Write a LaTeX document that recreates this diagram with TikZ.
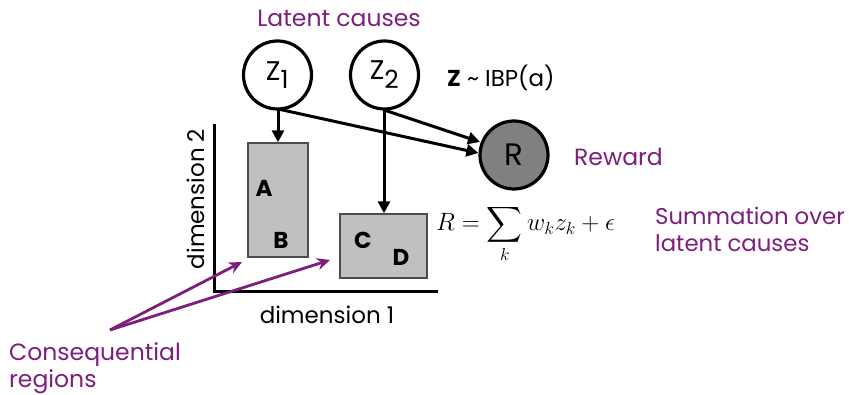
\RequirePackage{fix-cm}
\documentclass[tikz,border=0pt]{standalone}
\usepackage{fontspec}
\setmainfont{Poppins}
\usepackage{amsmath}
\usetikzlibrary{arrows.meta}
\definecolor{purp}{RGB}{125,30,125}
\definecolor{boxgray}{RGB}{192,192,192}
\definecolor{rgray}{RGB}{128,128,128}
\begin{document}
\begin{tikzpicture}[x=1pt,y=-1pt,
  latent/.style={circle,draw=black,line width=3.2pt,minimum size=68pt,inner sep=0pt,font=\fontsize{27}{29}\selectfont},
  region/.style={draw=black!70,line width=1.4pt,fill=boxgray},
  lab/.style={font=\fontsize{23}{25}\selectfont\bfseries},
  ptext/.style={text=purp,font=\fontsize{23.5}{27}\selectfont,inner sep=0pt},
  btext/.style={font=\fontsize{23}{26}\selectfont,inner sep=0pt},
  arr/.style={-{Triangle[length=12pt,width=12pt]},line width=3pt},
  parr/.style={-{Stealth[length=13pt,width=12pt]},line width=2.8pt,draw=purp}]
\useasboundingbox (0,0) rectangle (849,395);
% axes
\coordinate (ax0) at (214,292);
\coordinate (axy) at (214,124);
\coordinate (axx) at (438,292);
\draw[line width=3pt] (axy) -- (ax0) -- (axx);
\node[btext,rotate=90] (d2) at (196,199) {dimension 2};
\node[btext] (d1) at (327,315) {dimension 1};
% regions
\node[region,minimum width=60pt,minimum height=114pt,inner sep=0pt] (ab) at (278,200) {};
\node[lab] (A) at (264,188) {A};
\node[lab] (B) at (281,240) {B};
\node[region,minimum width=87pt,minimum height=64pt,inner sep=0pt] (cd) at (383.5,246) {};
\node[lab] (C) at (363,240) {C};
\node[lab] (D) at (401,257) {D};
% latent nodes
\node[latent] (z1) at (277.5,75) {Z\textsubscript{\fontsize{25}{26}\selectfont 1}};
\node[latent] (z2) at (384.5,75) {Z\textsubscript{\fontsize{25}{26}\selectfont 2}};
\node[circle,draw=black,line width=3.2pt,fill=rgray,minimum size=68pt,inner sep=0pt,font=\fontsize{31}{33}\selectfont] (r) at (514,155) {R};
\node[ptext] (lc) at (339,18) {Latent causes};
\node[btext,anchor=west] (ibp) at (447,78) {\textbf{Z} \textasciitilde{} IBP(a)};
\node[ptext,anchor=west] (rw) at (574,157) {Reward};
\node[anchor=west,inner sep=0pt,font=\fontsize{25}{28}\selectfont] (eq) at (436,234) {$R=\displaystyle\sum_k w_k z_k+\epsilon$};
\node[ptext,anchor=west,align=left,font=\fontsize{22.8}{27}\selectfont] (sum) at (655,229) {Summation over\\latent causes};
\node[ptext,anchor=west,align=left] (cr) at (9,368) {Consequential\\regions};
% arrows
\coordinate (z1b) at (278,109);
\coordinate (z2b) at (384,110);
\draw[arr] (z1b) -- (ab.north -| z1b);
\draw[arr] (z1b) -- (r.west |- 0,153) coordinate (r1);
\draw[arr] (z2b) -- (cd.north -| z2b);
\draw[arr] (z2b) -- (480,142) coordinate (r2);
\coordinate (co) at (110,330);
\coordinate (t1) at (242,262);
\coordinate (t2) at (330,260);
\draw[parr] (co) -- (t1);
\draw[parr] (co) -- (t2);
\end{tikzpicture}
\end{document}
